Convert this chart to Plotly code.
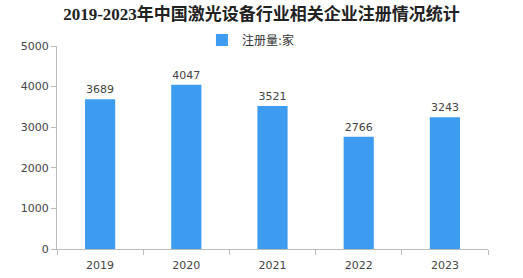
import plotly.graph_objects as go

years = ["2019", "2020", "2021", "2022", "2023"]
counts = [3689, 4047, 3521, 2766, 3243]
series_name = "注册量:家"
title = "2019-2023年中国激光设备行业相关企业注册情况统计"

fig = go.Figure()
fig.add_trace(go.Bar(
    x=years, y=counts, name=series_name,
    marker=dict(color="#3d9cf0", line=dict(width=0)),
    text=[str(v) for v in counts], textposition="outside",
    textfont=dict(family="DejaVu Sans", size=11, color="#444"),
    cliponaxis=False, showlegend=True,
))
fig.update_layout(
    width=523, height=278,
    margin=dict(l=57, r=35, t=46, b=29),
    paper_bgcolor="white", plot_bgcolor="white",
    bargap=0.65,
    title=dict(text="<b>" + title + "</b>", x=0.5, xanchor="center", y=0.95, yanchor="middle",
               font=dict(family="Liberation Serif, Noto Sans CJK SC", size=17, color="#222")),
    legend=dict(orientation="h", x=0.45, xanchor="center", y=1.03, yanchor="middle",
                font=dict(family="DejaVu Sans, Noto Sans CJK SC", size=12, color="#333"),
                itemwidth=30, bgcolor="rgba(0,0,0,0)"),
    xaxis=dict(showline=True, linecolor="#bbb", linewidth=1, ticks="outside",
               tickcolor="#bbb", ticklen=5, tickson="boundaries", ticklabelstandoff=6,
               automargin=False,
               tickfont=dict(family="DejaVu Sans", size=11, color="#444"), showgrid=False),
    yaxis=dict(range=[0, 5000], dtick=1000, showline=True, linecolor="#bbb", linewidth=1,
               ticks="outside", tickcolor="#bbb", ticklen=5, showgrid=False, zeroline=False,
               automargin=False,
               tickfont=dict(family="DejaVu Sans", size=11, color="#444")),
)
fig.write_html("out.html")
